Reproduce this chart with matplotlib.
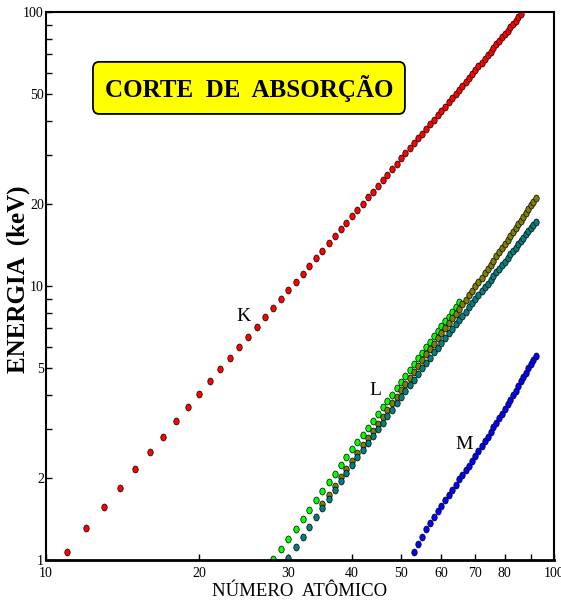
import numpy as np
import matplotlib
matplotlib.use("Agg")
import matplotlib.pyplot as plt
from matplotlib.path import Path
from matplotlib.transforms import Affine2D
from matplotlib.patches import FancyBboxPatch
from matplotlib.ticker import FixedLocator, FixedFormatter, NullFormatter

plt.rcParams['font.family'] = ['Liberation Serif', 'DejaVu Serif']

# absorption edge energies (keV) vs atomic number
k_z = list(range(11, 87))
k_e = [1.072, 1.305, 1.560, 1.839, 2.146, 2.472, 2.822, 3.203, 3.607, 4.038,
       4.493, 4.966, 5.465, 5.989, 6.539, 7.112, 7.709, 8.333, 8.979, 9.659,
       10.367, 11.103, 11.867, 12.658, 13.474, 14.326, 15.200, 16.105, 17.038, 17.998,
       18.986, 20.000, 21.044, 22.117, 23.220, 24.350, 25.514, 26.711, 27.940, 29.200,
       30.491, 31.814, 33.169, 34.561, 35.985, 37.441, 38.925, 40.443, 41.991, 43.569,
       45.184, 46.834, 48.519, 50.239, 51.996, 53.789, 55.618, 57.486, 59.390, 61.332,
       63.314, 65.351, 67.416, 69.525, 71.676, 73.871, 76.111, 78.395, 80.725, 83.102,
       85.530, 88.005, 90.526, 93.105, 95.730, 98.404]

l1_z = list(range(28, 66))
l1_e = [1.008, 1.096, 1.194, 1.298, 1.414, 1.527, 1.654, 1.782, 1.921, 2.065,
        2.216, 2.373, 2.532, 2.698, 2.866, 3.043, 3.224, 3.412, 3.604, 3.806,
        4.018, 4.238, 4.465, 4.698, 4.939, 5.188, 5.453, 5.714, 5.989, 6.266,
        6.549, 6.835, 7.126, 7.428, 7.737, 8.052, 8.376, 8.708]

l2_z = list(range(35, 93))
l2_e = [1.596, 1.727, 1.864, 2.007, 2.156, 2.307, 2.465, 2.625, 2.793, 2.967,
        3.146, 3.330, 3.524, 3.727, 3.938, 4.156, 4.380, 4.612, 4.852, 5.107,
        5.359, 5.624, 5.891, 6.164, 6.440, 6.722, 7.013, 7.312, 7.617, 7.930,
        8.252, 8.581, 8.918, 9.264, 9.617, 9.978, 10.349, 10.739, 11.136, 11.544,
        11.959, 12.385, 12.824, 13.273, 13.734, 14.209, 14.698, 15.200, 15.711, 16.244,
        16.785, 17.337, 17.907, 18.484, 19.083, 19.693, 20.314, 20.948]

l3_z = list(range(30, 93))
l3_e = [1.020, 1.115, 1.217, 1.323, 1.436, 1.550, 1.675, 1.804, 1.940, 2.080,
        2.223, 2.371, 2.520, 2.677, 2.838, 3.004, 3.173, 3.351, 3.538, 3.730,
        3.929, 4.132, 4.341, 4.557, 4.786, 5.012, 5.247, 5.483, 5.723, 5.964,
        6.208, 6.459, 6.716, 6.977, 7.243, 7.514, 7.790, 8.071, 8.358, 8.648,
        8.944, 9.244, 9.561, 9.881, 10.207, 10.535, 10.871, 11.215, 11.564, 11.919,
        12.284, 12.658, 13.035, 13.419, 13.814, 14.214, 14.619, 15.031, 15.444, 15.871,
        16.300, 16.733, 17.166]

m_z = list(range(53, 93))
m_e = [1.072, 1.148, 1.217, 1.293, 1.362, 1.436, 1.511, 1.575, 1.650, 1.723,
       1.800, 1.881, 1.968, 2.047, 2.128, 2.207, 2.307, 2.398, 2.491, 2.601,
       2.708, 2.820, 2.932, 3.049, 3.174, 3.296, 3.425, 3.562, 3.704, 3.851,
       3.999, 4.149, 4.317, 4.482, 4.652, 4.822, 5.002, 5.182, 5.367, 5.548]

x_ticks = [10, 20, 30, 40, 50, 60, 70, 80, 90, 100]
x_labels = ['10', '20', '30', '40', '50', '60', '70', '80', '', '100']
y_ticks = [1, 2, 5, 10, 20, 50, 100]
y_minor = [3, 4, 6, 7, 8, 9, 30, 40, 60, 70, 80, 90]

# slightly tall oval marker
dot = Path.unit_circle().transformed(Affine2D().scale(0.78, 1.0))

fig = plt.figure(figsize=(5.61, 6.02), dpi=100)
ax = fig.add_axes([46/561, 42/602, 508/561, 548/602])

series = [(k_z, k_e, '#ff0000'),
          (l1_z, l1_e, '#00ff00'),
          (l2_z, l2_e, '#808000'),
          (l3_z, l3_e, '#008080'),
          (m_z, m_e, '#0000ff')]
for z, e, c in series:
    ax.plot(z, e, linestyle='none', marker=dot, ms=5.0, mfc=c, mec='black', mew=0.5)

ax.set_xscale('log')
ax.set_yscale('log')
ax.set_xlim(10, 100)
ax.set_ylim(1, 100)

ax.xaxis.set_major_locator(FixedLocator(x_ticks))
ax.xaxis.set_major_formatter(FixedFormatter(x_labels))
ax.xaxis.set_minor_locator(FixedLocator([]))
ax.xaxis.set_minor_formatter(NullFormatter())
ax.yaxis.set_major_locator(FixedLocator(y_ticks))
ax.yaxis.set_major_formatter(FixedFormatter([str(v) for v in y_ticks]))
ax.yaxis.set_minor_locator(FixedLocator(y_minor))
ax.yaxis.set_minor_formatter(NullFormatter())

ax.tick_params(axis='both', which='both', direction='in', length=4, width=1,
               labelsize=10, top=False, right=False)
ax.tick_params(axis='y', which='both', pad=1.5)
ax.tick_params(axis='x', which='both', pad=5)
for s in ax.spines.values():
    s.set_linewidth(1.5)
ax.spines['bottom'].set_linewidth(2)

ax.set_xlabel('NÚMERO  ATÔMICO', fontsize=13.5)
ax.xaxis.set_label_coords(0.5, -0.058)
ax.xaxis.label.set_va('center')
ax.set_ylabel('ENERGIA  (keV)', fontsize=18, fontweight='bold')
ax.yaxis.set_label_coords(-0.055, 0.513)
ax.yaxis.label.set_va('center')

ax.text(24.5, 7.74, 'K', fontsize=14, ha='center', va='center')
ax.text(44.5, 4.17, 'L', fontsize=14, ha='center', va='center')
ax.text(66.5, 2.63, 'M', fontsize=14, ha='center', va='center')

box = FancyBboxPatch((0.0925, 0.814), 0.614, 0.095,
                     boxstyle='round,pad=0,rounding_size=0.012',
                     transform=ax.transAxes, facecolor='#ffff00',
                     edgecolor='black', linewidth=1.3, zorder=3)
ax.add_patch(box)
ax.text(0.3996, 0.861, 'CORTE  DE  ABSORÇÃO', transform=ax.transAxes,
        fontsize=18, fontweight='bold', ha='center', va='center', zorder=4)

fig.savefig('out.png', dpi=100)
